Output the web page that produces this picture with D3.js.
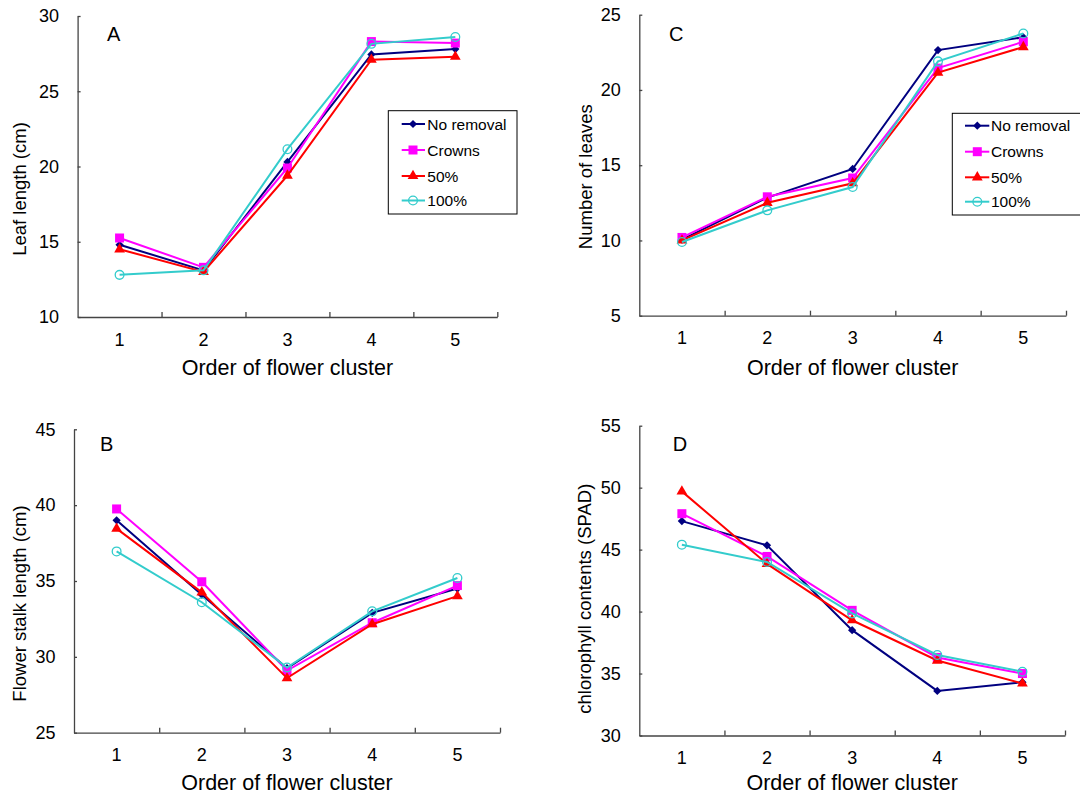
<!DOCTYPE html>
<html>
<head>
<meta charset="utf-8">
<script src="https://cdn.jsdelivr.net/npm/d3@7"></script>
<style>
html,body{margin:0;padding:0;background:#fff;}
svg{display:block;font-family:"Liberation Sans",Arial,sans-serif;}
</style>
</head>
<body>
<svg id="chart" width="1080" height="796"></svg>
<script>
// ---------- data ----------
const categories = ["1","2","3","4","5"];
const seriesNames = ["No removal","Crowns","50%","100%"];

// Panel A: Leaf length (cm)
const leafNoRemoval = [14.8, 13.1, 20.3, 27.45, 27.8];
const leafCrowns    = [15.25, 13.3, 19.9, 28.3, 28.2];
const leaf50        = [14.5, 13.0, 19.4, 27.1, 27.3];
const leaf100       = [12.8, 13.1, 21.15, 28.15, 28.6];
const leafTicks     = [10, 15, 20, 25, 30];

// Panel C: Number of leaves
const leavesNoRemoval = [10.05, 12.85, 14.75, 22.65, 23.5];
const leavesCrowns    = [10.2, 12.9, 14.15, 21.45, 23.2];
const leaves50        = [10.0, 12.5, 13.8, 21.15, 22.85];
const leaves100       = [9.9, 12.0, 13.55, 21.9, 23.75];
const leavesTicks     = [5, 10, 15, 20, 25];

// Panel B: Flower stalk length (cm)
const stalkNoRemoval = [39.0, 34.1, 29.25, 32.9, 34.5];
const stalkCrowns    = [39.75, 34.95, 29.1, 32.25, 34.7];
const stalk50        = [38.45, 34.25, 28.6, 32.15, 34.0];
const stalk100       = [36.95, 33.6, 29.3, 33.0, 35.2];
const stalkTicks     = [25, 30, 35, 40, 45];

// Panel D: chlorophyll contents (SPAD)
const spadNoRemoval = [47.3, 45.35, 38.5, 33.6, 34.3];
const spadCrowns    = [47.9, 44.45, 40.1, 36.3, 35.0];
const spad50        = [49.7, 43.85, 39.3, 36.05, 34.2];
const spad100       = [45.4, 44.0, 39.85, 36.5, 35.15];
const spadTicks     = [30, 35, 40, 45, 50, 55];

// ---------- styles ----------
const colors = ["#000080", "#FF00FF", "#FF0000", "#33CCCC"];
const FONT = '"Liberation Sans",Arial,sans-serif';
const axisColor = "#444";

const svg = d3.select("#chart");

const symbols = [
  d3.symbol().type(d3.symbolSquare).size(34),   // diamond (rotated)
  d3.symbol().type(d3.symbolSquare).size(81),
  d3.symbol().type(d3.symbolTriangle).size(50),
  d3.symbol().type(d3.symbolCircle).size(60)
];
function drawMarker(g, i, x, y) {
  const p = g.append("path").attr("d", symbols[i]());
  if (i === 0) p.attr("transform", `translate(${x},${y}) rotate(45)`);
  else p.attr("transform", `translate(${x},${y})`);
  if (i === 3) p.attr("fill", "none").attr("stroke", colors[i]).attr("stroke-width", 1.3);
  else p.attr("fill", colors[i]);
}

const panels = [
  {label:"A", data:[leafNoRemoval,leafCrowns,leaf50,leaf100], ticks:leafTicks,
   x0:77.6, x1:497.3, yTop:16, yBot:317, labelX:107, labelY:40.7,
   ytitle:"Leaf length (cm)", ytx:19.7, yty:189, xtitleY:375,
   legend:{x:388.3, y:110.7, w:128.7, h:103.3, rows:[124,150,176,200.5], lx0:401.7, lx1:425, mx:413, tx:427.3}},
  {label:"C", data:[leavesNoRemoval,leavesCrowns,leaves50,leaves100], ticks:leavesTicks,
   x0:639.3, x1:1066, yTop:14.7, yBot:315.7, labelX:669, labelY:40.7,
   ytitle:"Number of leaves", ytx:585.9, yty:176.7, xtitleY:375,
   legend:{x:952.3, y:113.3, w:128.7, h:101.7, rows:[125.7,151.7,177.3,201.7], lx0:965, lx1:989.3, mx:977.3, tx:991}},
  {label:"B", data:[stalkNoRemoval,stalkCrowns,stalk50,stalk100], ticks:stalkTicks,
   x0:74, x1:500, yTop:429.3, yBot:732.7, labelX:100, labelY:450.7,
   ytitle:"Flower stalk length (cm)", ytx:19.7, yty:603.5, xtitleY:790},
  {label:"D", data:[spadNoRemoval,spadCrowns,spad50,spad100], ticks:spadTicks,
   x0:639.3, x1:1065, yTop:425.7, yBot:735.5, labelX:672.8, labelY:450.7,
   ytitle:"chlorophyll contents (SPAD)", ytx:584, yty:598.7, xtitleY:790}
];

panels.forEach(p => {
  const g = svg.append("g");
  const x = d3.scaleBand().domain(categories).range([p.x0, p.x1]).padding(0);
  const edge = d3.scaleLinear().domain([0, categories.length]).range([p.x0, p.x1]);
  const y = d3.scaleLinear().domain(d3.extent(p.ticks)).range([p.yBot, p.yTop]);
  const cx = c => x(c) + x.bandwidth() / 2;

  // y axis
  const ya = g.append("g").attr("transform", `translate(${p.x0},0)`)
    .call(d3.axisLeft(y).tickValues(p.ticks).tickSizeInner(-3).tickSizeOuter(0).tickPadding(18.5));
  // x axis labels
  const xa = g.append("g").attr("transform", `translate(0,${p.yBot})`)
    .call(d3.axisBottom(x).tickSize(0).tickPadding(16));
  xa.select(".domain").remove();
  // x boundary ticks + domain
  const xe = g.append("g").attr("transform", `translate(0,${p.yBot})`)
    .call(d3.axisBottom(edge).tickValues(d3.range(1, categories.length + 1)).tickSizeInner(-5).tickSizeOuter(0).tickFormat(""));

  [ya, xa, xe].forEach(a => {
    a.selectAll(".domain").attr("stroke", axisColor).attr("stroke-width", 1.3);
    a.selectAll(".tick line").attr("stroke", axisColor).attr("stroke-width", 1.3);
    a.selectAll("text").attr("font-family", FONT).attr("font-size", 18).attr("fill", "#000");
  });

  // panel letter
  g.append("text").attr("x", p.labelX).attr("y", p.labelY).text(p.label)
    .attr("font-family", FONT).attr("font-size", 20).attr("fill", "#000");

  // y title
  g.append("text").text(p.ytitle)
    .attr("transform", `translate(${p.ytx},${p.yty}) rotate(-90)`)
    .attr("text-anchor", "middle").attr("dominant-baseline", "central")
    .attr("font-family", FONT).attr("font-size", 18.5).attr("fill", "#000");

  // x title
  g.append("text").text("Order of flower cluster")
    .attr("x", (p.x0 + p.x1) / 2).attr("y", p.xtitleY)
    .attr("text-anchor", "middle")
    .attr("font-family", FONT).attr("font-size", 21.5).attr("fill", "#000");

  // lines and markers
  const line = d3.line().x((d, i) => cx(categories[i])).y(d => y(d));
  p.data.forEach((vals, si) => {
    g.append("path").datum(vals).attr("d", line)
      .attr("fill", "none").attr("stroke", colors[si]).attr("stroke-width", 2);
    vals.forEach((v, i) => drawMarker(g, si, cx(categories[i]), y(v)));
  });

  // legend
  if (p.legend) {
    const L = p.legend;
    const lg = g.append("g");
    lg.append("rect").attr("x", L.x).attr("y", L.y).attr("width", L.w).attr("height", L.h)
      .attr("fill", "#fff").attr("stroke", "#000").attr("stroke-width", 1);
    seriesNames.forEach((name, si) => {
      const ry = L.rows[si];
      lg.append("line").attr("x1", L.lx0).attr("x2", L.lx1).attr("y1", ry).attr("y2", ry)
        .attr("stroke", colors[si]).attr("stroke-width", 2);
      drawMarker(lg, si, L.mx, ry);
      lg.append("text").attr("x", L.tx).attr("y", ry).attr("dominant-baseline", "central")
        .text(name).attr("font-family", FONT).attr("font-size", 15.5).attr("fill", "#000");
    });
  }
});
</script>
</body>
</html>
